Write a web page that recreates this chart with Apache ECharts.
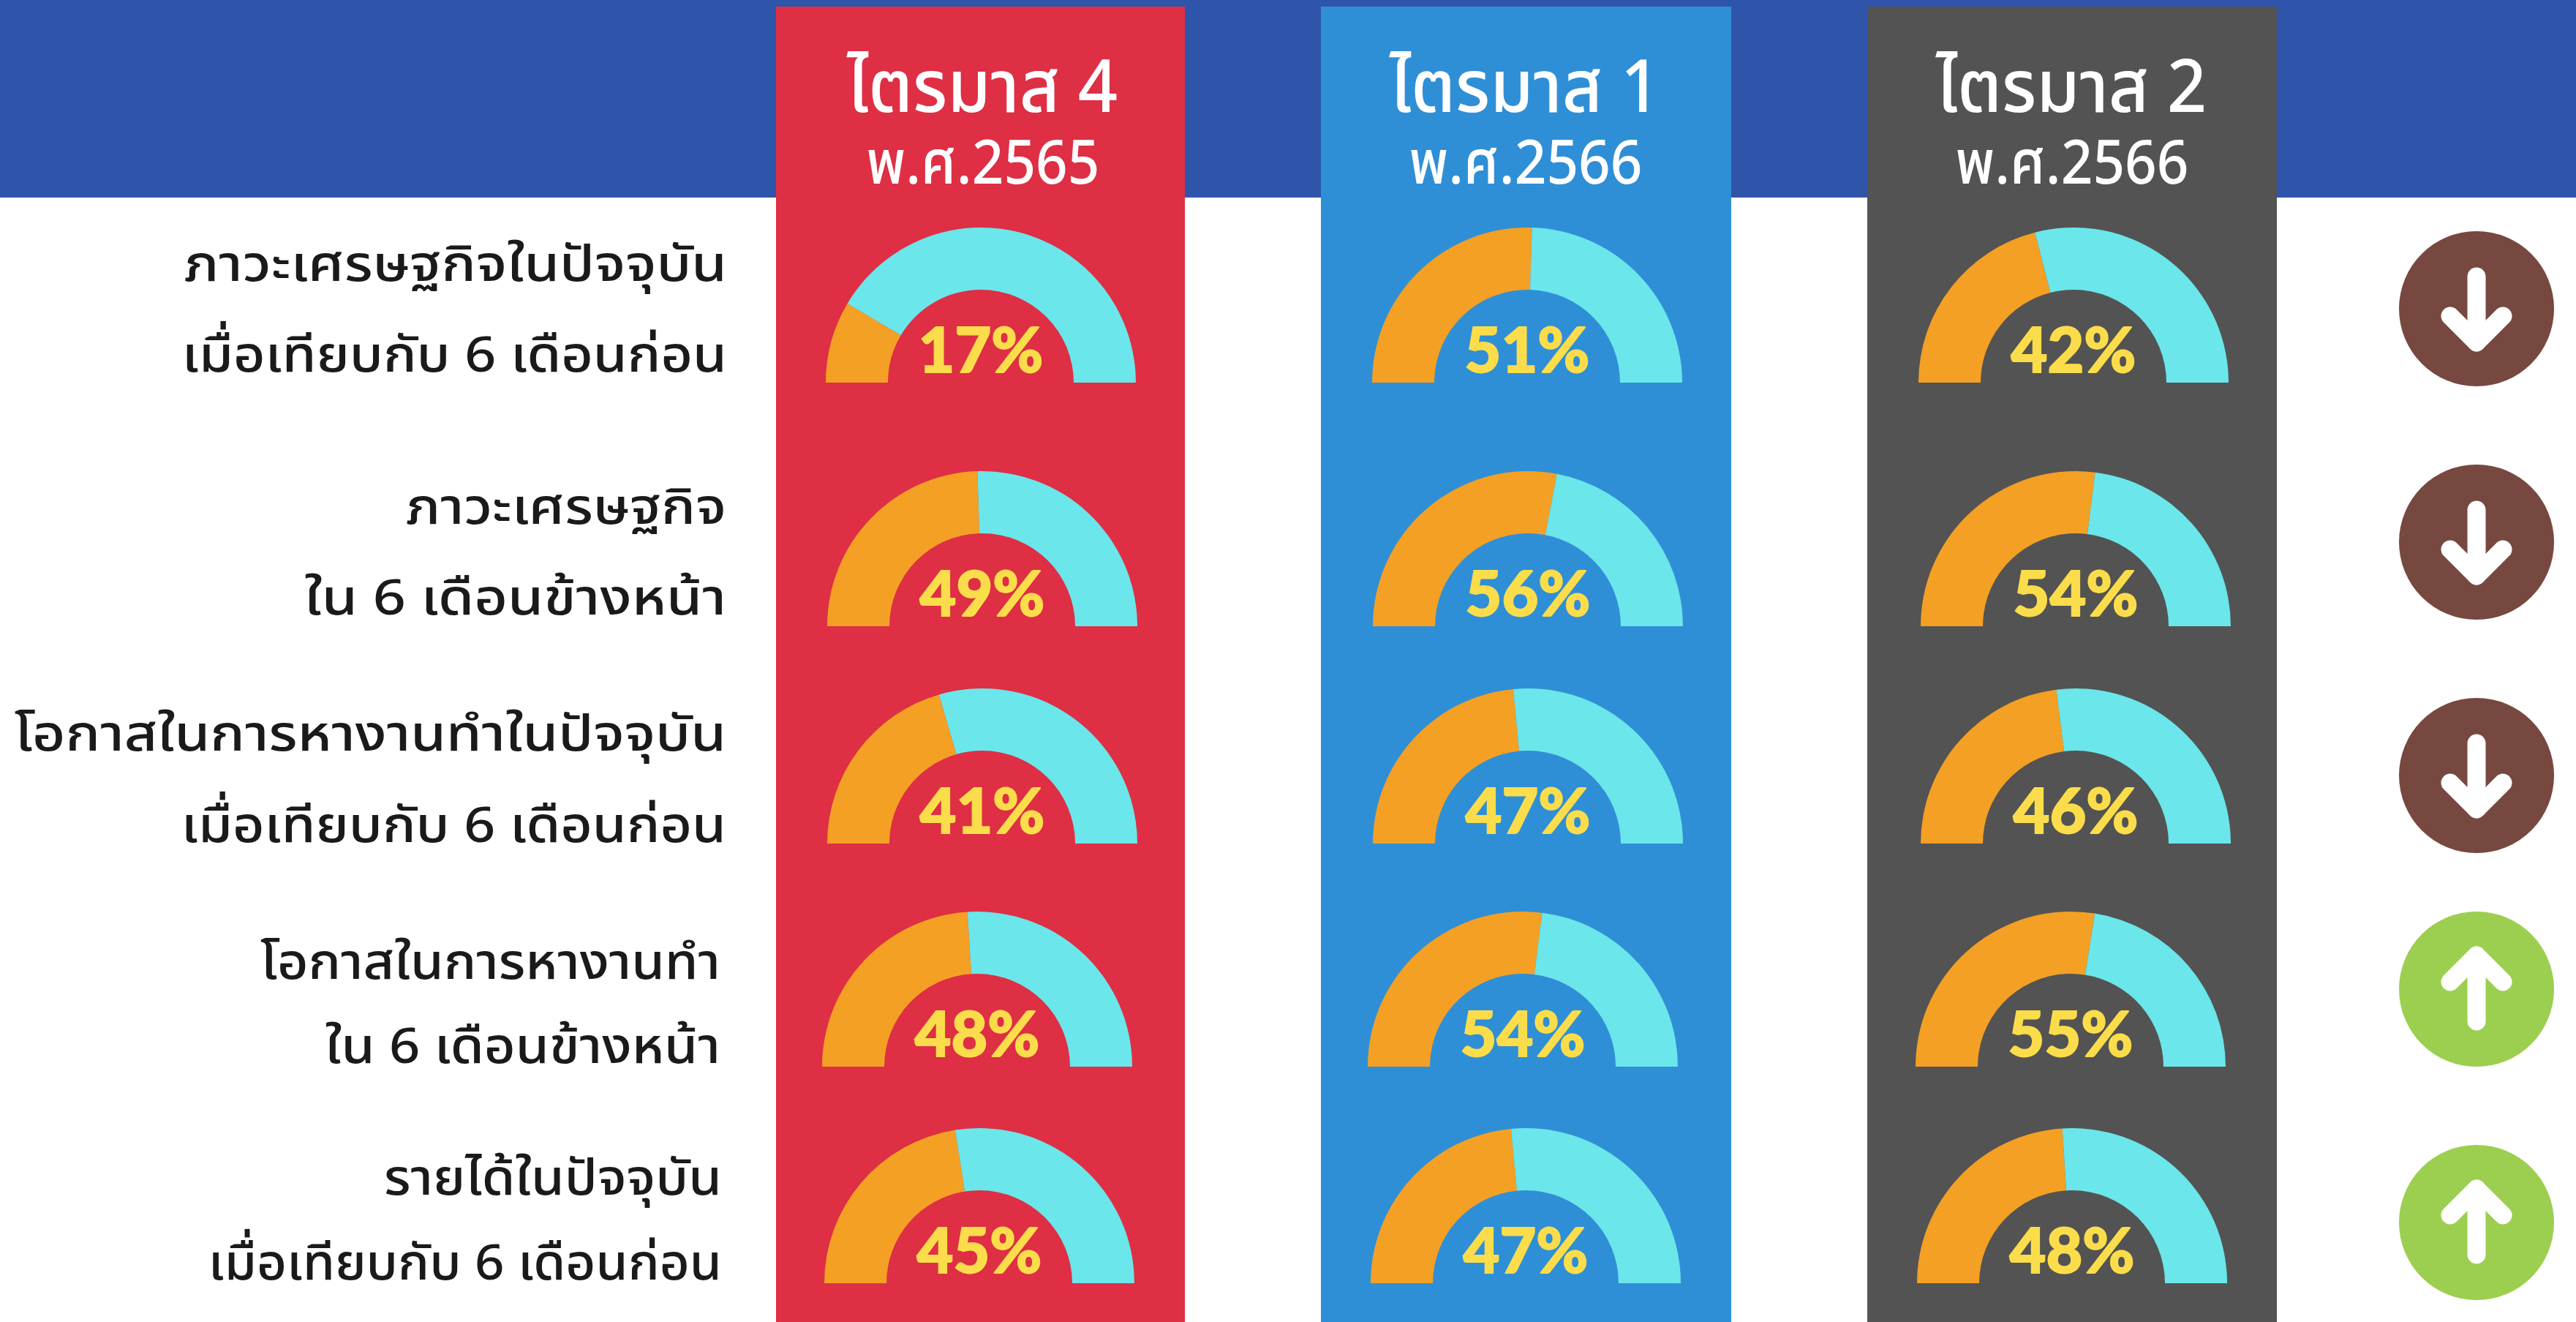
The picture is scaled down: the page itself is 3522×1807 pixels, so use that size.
<!DOCTYPE html>
<html><head><meta charset="utf-8">
<style>html,body{margin:0;padding:0;background:#fff}#c{width:3522px;height:1807px}</style>
<script src="https://cdn.jsdelivr.net/npm/echarts@6/dist/echarts.min.js"></script></head>
<body><div id="c"></div>
<script>
var periods=['ไตรมาส 4','ไตรมาส 1','ไตรมาส 2'];
var years=['พ.ศ.2565','พ.ศ.2566','พ.ศ.2566'];
var rowLabels=[['ภาวะเศรษฐกิจในปัจจุบัน','เมื่อเทียบกับ 6 เดือนก่อน'],['ภาวะเศรษฐกิจ','ใน 6 เดือนข้างหน้า'],['โอกาสในการหางานทำในปัจจุบัน','เมื่อเทียบกับ 6 เดือนก่อน'],['โอกาสในการหางานทำ','ใน 6 เดือนข้างหน้า'],['รายได้ในปัจจุบัน','เมื่อเทียบกับ 6 เดือนก่อน']];
var q4=[17,49,41,48,45];
var q1=[51,56,47,54,47];
var q2=[42,54,46,55,48];
var trend=['down','down','down','up','up'];

var C={banner:'#2F55AB',cols:['#DE2F44','#2F8FD6','#535353'],orange:'#F4A024',cyan:'#6BE6EA',yellow:'#FBDD4B',down:'#774840',up:'#9CCF4F'};
var colRects=[[1061,559],[1806,561],[2553,560]];
var headX=[1343,2085,2832];
var gaugeX=[[1341,1343,1343,1336,1339],[2088,2089,2089,2082,2086],[2835,2838,2838,2831,2833]];
var baseY=[523,856,1153,1458,1754];
var labelRight=[994,993,993,985,987];
var labelY=[[370,494],[702,826],[1012,1137],[1324,1439],[1619,1735]];
var labelScale=[[1.149,1.107],[1.14,1.163],[1.153,1.107],[1.08,1.09],[1.08,1.043]];
var arrowY=[422,741,1060,1352,1671];
var thai='"Noto Sans Thai","Noto Sans","DejaVu Sans",sans-serif';

var g=[{type:'rect',shape:{x:0,y:0,width:3522,height:270},style:{fill:C.banner},z:0}];
colRects.forEach(function(r,i){
 g.push({type:'rect',shape:{x:r[0],y:9,width:r[1],height:1798},style:{fill:C.cols[i]},z:1});
 g.push({type:'text',x:headX[i],y:133,scaleX:0.95,z:5,style:{text:periods[i],fill:'#fff',font:'500 100px '+thai,align:'center',verticalAlign:'middle'}});
 g.push({type:'text',x:headX[i]+1,y:234,scaleX:0.91,z:5,style:{text:years[i],fill:'#fff',font:'500 84px '+thai,align:'center',verticalAlign:'middle'}});
});
rowLabels.forEach(function(l,i){
 l.forEach(function(t,j){
  g.push({type:'text',x:labelRight[i],y:labelY[i][j],scaleX:labelScale[i][j],z:5,style:{text:t,fill:'#1a1a1a',font:'500 68px '+thai,align:'right',verticalAlign:'middle'}});
 });
 var cx=3386,cy=arrowY[i],d=trend[i]==='down'?1:-1;
 g.push({type:'circle',shape:{cx:cx,cy:cy,r:106},style:{fill:trend[i]==='down'?C.down:C.up},z:2});
 g.push({type:'polyline',shape:{points:[[cx,cy-d*44],[cx,cy+d*46]]},style:{stroke:'#fff',lineWidth:25,lineCap:'round',fill:null},z:3});
 g.push({type:'polyline',shape:{points:[[cx-36,cy+d*10],[cx,cy+d*46],[cx+36,cy+d*10]]},style:{stroke:'#fff',lineWidth:25,lineCap:'round',lineJoin:'round',fill:null},z:3});
});
var series=[];
[q4,q1,q2].forEach(function(vals,c){
 vals.forEach(function(v,r){
  series.push({type:'pie',silent:true,animation:false,startAngle:180,endAngle:360,clockwise:true,
   center:[gaugeX[c][r],baseY[r]],radius:[127,212],z:4,
   labelLine:{show:false},
   label:{show:false},
   data:[{value:v,name:'เห็นด้วย',itemStyle:{color:C.orange},
     label:{show:true,position:'center',offset:[0,-42],formatter:v+'%',color:C.yellow,fontFamily:'Lato',fontWeight:900,fontSize:86,textBorderColor:C.yellow,textBorderWidth:2}},
    {value:100-v,name:'อื่น ๆ',itemStyle:{color:C.cyan}}]});
 });
});
var ch=echarts.init(document.getElementById('c'),null,{renderer:'canvas'});
ch.setOption({animation:false,backgroundColor:'#fff',graphic:g,series:series});
</script></body></html>
